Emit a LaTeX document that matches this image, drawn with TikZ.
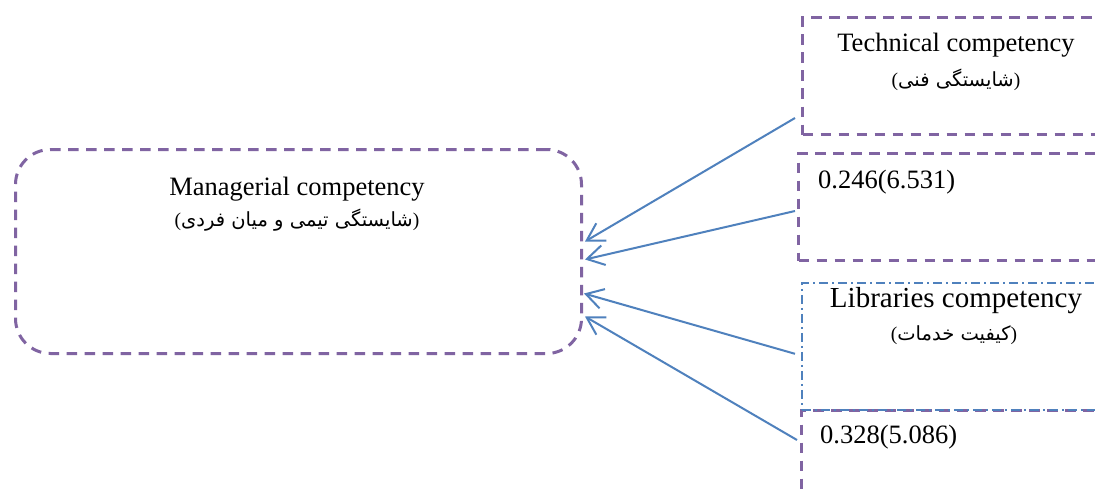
\documentclass[tikz,border=0pt]{standalone}
\usepackage{fontspec}
\usepackage{tikz}
\usetikzlibrary{arrows.meta,calc}
\setmainfont{Liberation Serif}
\newfontfamily\arabicfont[Script=Arabic]{DejaVu Sans}
\TeXXeTstate=1
\definecolor{boxpurple}{RGB}{128,100,162}
\definecolor{linkblue}{RGB}{79,129,189}

\begin{document}
\begin{tikzpicture}[x=1pt, y=-1pt,
  pbox/.style={draw=boxpurple, line width=3pt, dash pattern=on 10.5pt off 7.5pt, inner sep=0pt},
  bbox/.style={draw=linkblue, line width=1.8pt, dash pattern=on 9pt off 4pt on 2pt off 4pt, inner sep=0pt},
  arr/.style={draw=linkblue, line width=2pt, -{Straight Barb[length=17pt, width=20pt]}},
  en/.style={font=\fontsize{26.5}{30}\selectfont, inner sep=0pt, anchor=base},
  fa/.style={font=\fontsize{19.5}{22}\selectfont, inner sep=0pt, anchor=base}]
  \clip (0,0) rectangle (1095,495);
  \fill[white] (0,0) rectangle (1095,495);

  % boxes
  \node (mgr) [pbox, rounded corners=35pt, minimum width=566pt, minimum height=204pt, anchor=north west] at (14,148) {};
  \node (tech) [pbox, minimum width=320pt, minimum height=117pt, anchor=north west] at (801,16) {};
  \node (val1) [pbox, minimum width=320pt, minimum height=107pt, anchor=north west] at (797,152) {};
  \node (val2) [pbox, minimum width=320pt, minimum height=120pt, anchor=north west] at (800,409) {};
  \node (lib) [bbox, minimum width=320pt, minimum height=127pt, anchor=north west] at (801,282) {};

  % texts
  \node (mgrT) [en] at (297,195) {Managerial competency};
  \node (mgrF) [fa] at (297,226) {({\arabicfont\beginR شایستگی تیمی و میان فردی\endR})};
  \node (techT) [en] at (956,52) {Technical competency};
  \node (techF) [fa] at (956,86) {({\arabicfont\beginR شایستگی فنی\endR})};
  \node (val1T) [en, anchor=base west] at (818,188) {0.246(6.531)};
  \node (libT) [en, font=\fontsize{29}{32}\selectfont] at (956,307) {Libraries competency};
  \node (libF) [fa] at (954,340) {({\arabicfont\beginR کیفیت خدمات\endR})};
  \node (val2T) [en, anchor=base west] at (820,443) {0.328(5.086)};

  % links
  \draw[arr] ($(tech.south west)+(-6,-18)$) -- ($(mgr.east)+(2,-10)$);
  \draw[arr] ($(val1.south west)+(-2,-51)$) -- ($(mgr.east)+(2,8)$);
  \draw[arr] ($(lib.south west)+(-6,-57)$) -- ($(mgr.east)+(1,42)$);
  \draw[arr] ($(val2.north west)+(-3,31)$) -- ($(mgr.east)+(2,65)$);
\end{tikzpicture}
\end{document}
